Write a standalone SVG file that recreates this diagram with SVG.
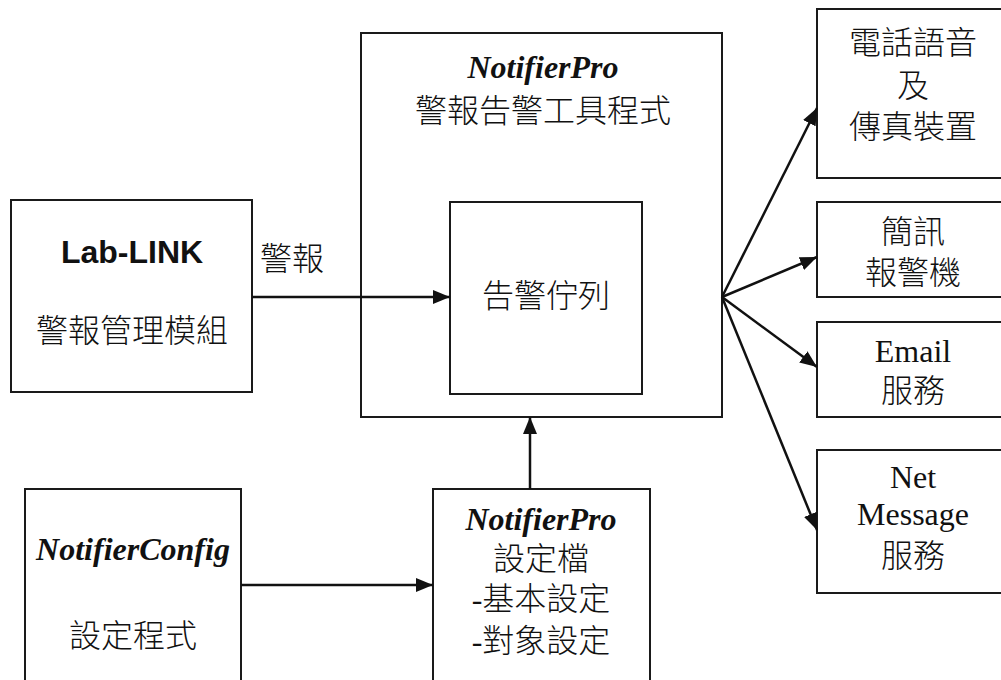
<svg xmlns="http://www.w3.org/2000/svg" width="1001" height="680" viewBox="0 0 1001 680">
<style>
.box{fill:#fff;stroke:#1a1a1a;stroke-width:2}
.t{font-family:"Liberation Serif","Noto Sans CJK TC",serif;font-size:32px;fill:#111;text-anchor:middle;font-weight:300}
.bi{font-family:"Liberation Serif",serif;font-size:32px;font-weight:bold;font-style:italic;fill:#111;text-anchor:middle}
.b{font-family:"Liberation Sans",sans-serif;font-size:32px;font-weight:bold;fill:#111;text-anchor:middle}
.c{stroke:#111;stroke-width:2.5;fill:none;marker-end:url(#ah)}
</style>
<defs>
<marker id="ah" markerUnits="userSpaceOnUse" markerWidth="18" markerHeight="14" refX="17" refY="7" orient="auto">
<path d="M0,0 L17,7 L0,14 Z" fill="#111"/>
</marker>
</defs>
<rect width="1001" height="680" fill="#fff"/>
<g id="lablink">
<rect class="box" x="11" y="200" width="241" height="192"/>
<text class="b" x="132" y="263">Lab-LINK</text>
<text class="t" x="132" y="342">警報管理模組</text>
</g>
<g id="notifierpro">
<rect class="box" x="361" y="33" width="361" height="384"/>
<text class="bi" x="543" y="78">NotifierPro</text>
<text class="t" x="543" y="122">警報告警工具程式</text>
</g>
<g id="queue">
<rect class="box" x="450" y="202" width="192" height="192"/>
<text class="t" x="546" y="307">告警佇列</text>
</g>
<g id="phone">
<rect class="box" x="817" y="9" width="192" height="169"/>
<text class="t" x="913" y="54">電話語音</text>
<text class="t" x="913" y="97">及</text>
<text class="t" x="913" y="138">傳真裝置</text>
</g>
<g id="sms">
<rect class="box" x="817" y="202" width="192" height="95"/>
<text class="t" x="913" y="243">簡訊</text>
<text class="t" x="913" y="284">報警機</text>
</g>
<g id="email">
<rect class="box" x="817" y="322" width="192" height="95"/>
<text class="t" x="913" y="362">Email</text>
<text class="t" x="913" y="402">服務</text>
</g>
<g id="netmsg">
<rect class="box" x="817" y="450" width="192" height="143"/>
<text class="t" x="913" y="488">Net</text>
<text class="t" x="913" y="525">Message</text>
<text class="t" x="913" y="567">服務</text>
</g>
<g id="config">
<rect class="box" x="25" y="489" width="216" height="200"/>
<text class="bi" x="133" y="560">NotifierConfig</text>
<text class="t" x="133" y="647">設定程式</text>
</g>
<g id="cfgfile">
<rect class="box" x="433" y="489" width="217" height="200"/>
<text class="bi" x="541" y="530">NotifierPro</text>
<text class="t" x="541" y="570">設定檔</text>
<text class="t" x="541" y="610">-基本設定</text>
<text class="t" x="541" y="652">-對象設定</text>
</g>
<g id="connectors">
<line class="c" x1="252" y1="297" x2="450" y2="297"/>
<text class="t" x="292" y="270">警報</text>
<line class="c" x1="722" y1="297" x2="817" y2="108"/>
<line class="c" x1="722" y1="297" x2="817" y2="257"/>
<line class="c" x1="722" y1="297" x2="817" y2="367"/>
<line class="c" x1="722" y1="297" x2="817" y2="530"/>
<line class="c" x1="241" y1="585" x2="433" y2="585"/>
<line class="c" x1="530" y1="489" x2="530" y2="417"/>
</g>
</svg>
